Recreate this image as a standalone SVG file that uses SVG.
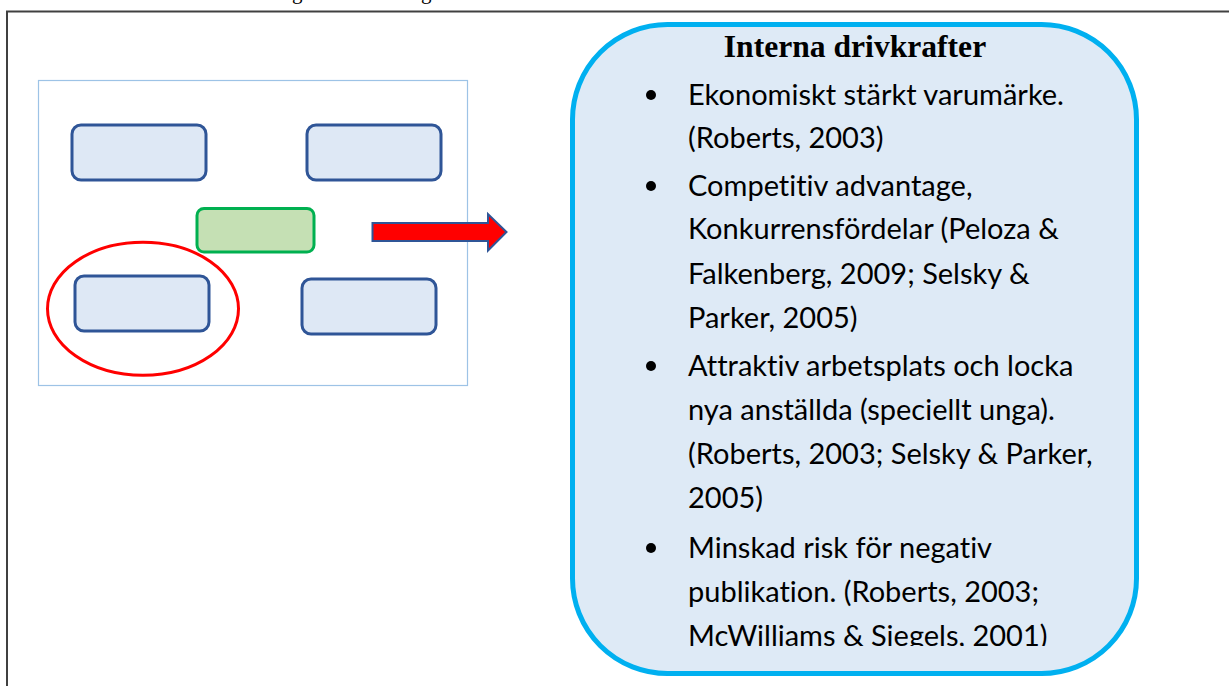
<svg xmlns="http://www.w3.org/2000/svg" width="1229" height="686" viewBox="0 0 1229 686">
  <defs>
    <style>
      .box { fill: #DEE8F5; stroke: #2F5597; stroke-width: 3; }
      .green { fill: #C5E0B4; stroke: #00B050; stroke-width: 3; }
      .body { font-family: Lato, "Liberation Sans", sans-serif; font-size: 29px; fill: #000; font-variant-ligatures: none; font-feature-settings: "liga" 0, "clig" 0; }
      .title { font-family: "Liberation Serif", serif; font-size: 31.6px; font-weight: bold; fill: #000; }
      .frame { stroke: #404040; stroke-width: 2; fill: none; }
      .cut { font-family: "Liberation Serif", serif; font-size: 21px; fill: #000; }
    </style>
    <clipPath id="textclip">
      <rect x="575" y="27" width="558" height="619"/>
    </clipPath>
  </defs>

  <rect x="0" y="0" width="1229" height="686" fill="#FFFFFF"/>

  <!-- cut-off text descenders at the top edge -->
  <text class="cut" x="292" y="-1">g</text>
  <text class="cut" x="421" y="-1">g</text>

  <!-- outer frame -->
  <g id="frame">
    <line class="frame" x1="6" y1="11.5" x2="1229" y2="11.5"/>
    <line class="frame" x1="7" y1="11" x2="7" y2="686"/>
  </g>

  <!-- inner model panel -->
  <g id="panel">
    <rect x="38.5" y="80.5" width="429" height="305" fill="#FFFFFF" stroke="#9DC3E6" stroke-width="1.2"/>
  </g>

  <g id="node-top-left">
    <rect class="box" x="72" y="125" width="134" height="55" rx="9"/>
  </g>
  <g id="node-top-right">
    <rect class="box" x="307" y="125" width="134" height="55" rx="9"/>
  </g>
  <g id="node-center">
    <rect class="green" x="197" y="208.5" width="117" height="43.5" rx="7"/>
  </g>
  <g id="node-bottom-left">
    <rect class="box" x="75" y="276" width="134" height="55" rx="9"/>
  </g>
  <g id="node-bottom-right">
    <rect class="box" x="302" y="279" width="134" height="55" rx="9"/>
  </g>

  <g id="highlight">
    <ellipse cx="143" cy="308.7" rx="95.5" ry="66.5" fill="none" stroke="#FF0000" stroke-width="3"/>
  </g>

  <g id="connectors">
    <polygon points="372.5,223 488,223 488,214 506.5,232 488,250.5 488,241 372.5,241" fill="#FF0000" stroke="#2F5597" stroke-width="2" stroke-linejoin="miter"/>
  </g>

  <g id="node-interna">
    <rect x="572.5" y="24.5" width="564" height="649" rx="95" ry="95" fill="#DEEAF6" stroke="#00B0F0" stroke-width="5"/>
    <text class="title" x="855" y="57" text-anchor="middle">Interna drivkrafter</text>
    <g clip-path="url(#textclip)">
      <circle cx="651" cy="95" r="5"/>
      <circle cx="651" cy="186" r="5"/>
      <circle cx="651" cy="366" r="5"/>
      <circle cx="651" cy="548" r="5"/>
      <text class="body" x="688" y="105">Ekonomiskt stärkt varumärke.</text>
      <text class="body" x="688" y="148">(Roberts, 2003)</text>
      <text class="body" x="688" y="196">Competitiv advantage,</text>
      <text class="body" x="688" y="239">Konkurrensfördelar (Peloza &amp;</text>
      <text class="body" x="688" y="284">Falkenberg, 2009; Selsky &amp;</text>
      <text class="body" x="688" y="328">Parker, 2005)</text>
      <text class="body" x="688" y="376">Attraktiv arbetsplats och locka</text>
      <text class="body" x="688" y="420">nya anställda (speciellt unga).</text>
      <text class="body" x="688" y="464">(Roberts, 2003; Selsky &amp; Parker,</text>
      <text class="body" x="688" y="508">2005)</text>
      <text class="body" x="688" y="558">Minskad risk för negativ</text>
      <text class="body" x="688" y="602">publikation. (Roberts, 2003;</text>
      <text class="body" x="688" y="646">McWilliams &amp; Siegels, 2001)</text>
    </g>
  </g>
</svg>
